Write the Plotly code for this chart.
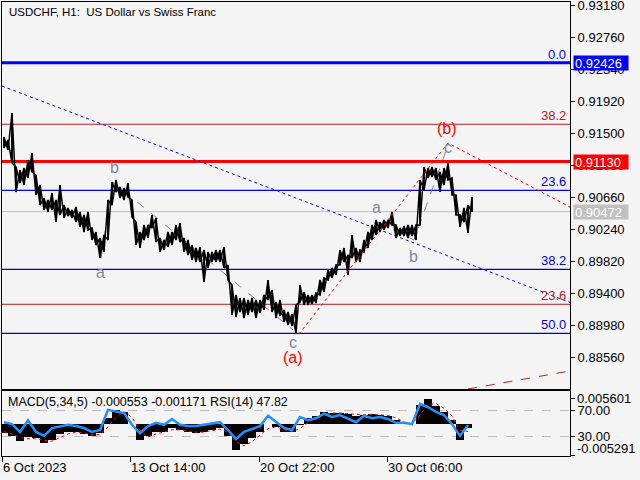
import plotly.graph_objects as go

# ---------------- data ----------------
chart_title = "USDCHF, H1:\u00a0 US Dollar vs Swiss Franc"
indicator_title = "MACD(5,34,5) -0.000553 -0.001171 RSI(14) 47.82"

# hourly bars, sampled every 4 bars starting at bar 2
price_first_bar = 2
price_bar_step = 4
price_high = [
    0.91452, 0.91413, 0.91767, 0.91058, 0.91019, 0.91045, 0.91150, 0.91242, 0.90953, 0.90822,
    0.90651, 0.90625, 0.90717, 0.90625, 0.90822, 0.90559, 0.90520, 0.90494, 0.90533, 0.90468,
    0.90428, 0.90468, 0.90258, 0.90205, 0.90126, 0.90166, 0.90625, 0.90861, 0.90888, 0.90796,
    0.90783, 0.90848, 0.90625, 0.90336, 0.90205, 0.90297, 0.90297, 0.90428, 0.90389, 0.90126,
    0.90100, 0.90205, 0.90205, 0.90297, 0.90323, 0.90126, 0.90100, 0.90034, 0.89995, 0.90008,
    0.89969, 0.89943, 0.89943, 0.89969, 0.89969, 0.90008, 0.89772, 0.89509, 0.89378, 0.89339,
    0.89339, 0.89313, 0.89339, 0.89313, 0.89313, 0.89378, 0.89575, 0.89444, 0.89286, 0.89313,
    0.89181, 0.89155, 0.89129, 0.89247, 0.89509, 0.89418, 0.89378, 0.89378, 0.89404, 0.89575,
    0.89601, 0.89706, 0.89733, 0.89772, 0.89969, 0.89995, 0.89903, 0.90166, 0.89995, 0.89969,
    0.90100, 0.90205, 0.90297, 0.90363, 0.90336, 0.90363, 0.90363, 0.90468, 0.90297, 0.90258,
    0.90284, 0.90297, 0.90297, 0.90297, 0.90888, 0.91058, 0.91045, 0.91058, 0.91045, 0.90993,
    0.91045, 0.91111, 0.90914, 0.90691, 0.90428, 0.90520, 0.90559, 0.90664,
]
price_low = [
    0.91308, 0.91281, 0.91111, 0.90730, 0.90848, 0.90822, 0.90914, 0.90993, 0.90691, 0.90559,
    0.90494, 0.90468, 0.90494, 0.90336, 0.90428, 0.90389, 0.90415, 0.90389, 0.90336, 0.90271,
    0.90205, 0.90231, 0.90100, 0.90034, 0.89864, 0.89943, 0.90100, 0.90559, 0.90730, 0.90651,
    0.90625, 0.90664, 0.90402, 0.90034, 0.89995, 0.90100, 0.90126, 0.90258, 0.90074, 0.89943,
    0.89969, 0.90008, 0.90034, 0.90100, 0.90074, 0.89943, 0.89903, 0.89838, 0.89811, 0.89811,
    0.89549, 0.89733, 0.89811, 0.89811, 0.89811, 0.89733, 0.89575, 0.89116, 0.89089, 0.89155,
    0.89076, 0.89116, 0.89155, 0.89076, 0.89142, 0.89181, 0.89313, 0.89155, 0.89076, 0.89103,
    0.89024, 0.88984, 0.88971, 0.88879, 0.89286, 0.89247, 0.89247, 0.89260, 0.89273, 0.89378,
    0.89418, 0.89575, 0.89601, 0.89641, 0.89772, 0.89811, 0.89641, 0.89864, 0.89811, 0.89811,
    0.89943, 0.89995, 0.90100, 0.90166, 0.90205, 0.90231, 0.90258, 0.90297, 0.90126, 0.90153,
    0.90153, 0.90126, 0.90153, 0.90100, 0.90297, 0.90756, 0.90914, 0.90927, 0.90888, 0.90730,
    0.90822, 0.90888, 0.90691, 0.90428, 0.90271, 0.90336, 0.90192, 0.90468,
]

# indicator window, sampled every 8 bars starting at bar 2
ind_first_bar = 2
ind_bar_step = 8
macd_main = [
    -0.00144, -0.00194, -0.00278, -0.00211, -0.00228, -0.00312, -0.00261, -0.00161, -0.00127, -0.00127,
    -0.00161, -0.00194, -0.00144, 0.00107, 0.00241, 0.00208, 0.00010, -0.00261, -0.00194, -0.00127,
    -0.00127, -0.00060, -0.00094, -0.00127, -0.00144, -0.00127, -0.00094, -0.00060, -0.00194, -0.00429,
    -0.00328, -0.00228, -0.00127, 0.00000, -0.00044, -0.00127, -0.00127, -0.00010, 0.00107, 0.00141,
    0.00208, 0.00191, 0.00191, 0.00174, 0.00141, 0.00158, 0.00174, 0.00158, 0.00141, 0.00074,
    0.00000, 0.00000, 0.00325, 0.00426, 0.00308, 0.00208, 0.00074, -0.00261, -0.00055,
]
macd_signal = [
    -0.0012, -0.0016, -0.0022, -0.0024, -0.0023, -0.0027, -0.0028, -0.0022, -0.0016, -0.0013,
    -0.0014, -0.0017, -0.0017, -0.0004, 0.0012, 0.0021, 0.0012, -0.0010, -0.0021, -0.0016,
    -0.0013, -0.0009, -0.0009, -0.0011, -0.0013, -0.0013, -0.0011, -0.0008, -0.0013, -0.0029,
    -0.0036, -0.0029, -0.0018, -0.0007, -0.0004, -0.0009, -0.0012, -0.0007, 0.0003, 0.0011,
    0.0017, 0.0019, 0.0019, 0.0018, 0.0016, 0.0016, 0.0017, 0.0016, 0.0015, 0.0011,
    0.0004, 0.0001, 0.0016, 0.0033, 0.0035, 0.0027, 0.0014, -0.0010, -0.00117,
]
rsi_values = [
    52, 49, 37, 55, 37, 31, 43, 46, 48, 46,
    43, 37, 40, 71, 69, 66, 48, 35, 46, 51,
    48, 57, 48, 46, 46, 48, 51, 52, 40, 26,
    37, 42, 46, 62, 52, 43, 40, 60, 55, 58,
    65, 60, 63, 57, 52, 62, 58, 60, 57, 51,
    51, 49, 80, 75, 68, 63, 49, 31, 47.82,
]

# axes
time_tick_bars = [0, 128, 257, 385]
time_tick_labels = ["6 Oct 2023", "13 Oct 14:00", "20 Oct 22:00", "30 Oct 06:00"]
price_ticks = [0.93180, 0.92760, 0.92340, 0.91920, 0.91500, 0.91080,
               0.90660, 0.90240, 0.89820, 0.89400, 0.88980, 0.88560]
price_range = [0.88144, 0.93224]
bar_range = [0, 568]
macd_range = [-0.005291, 0.005601]
rsi_levels = [70, 30]

# horizontal levels: (price, label, colour, width)
fib_levels = [
    (0.92426, "0.0", "#0000FF", 3),
    (0.91619, "38.2", "#B22222", 1),
    (0.90752, "23.6", "#0000DD", 1.2),
    (0.89715, "38.2", "#0000DD", 1.2),
    (0.89256, "23.6", "#B22222", 1),
    (0.88875, "50.0", "#0000DD", 1.2),
]
resistance_level = 0.91130
current_price = 0.90472

# drawn objects (bar, price)
trend_blue_bars = [0, 568]
trend_blue_prices = [0.92121, 0.89281]
wave_red_bars = [297, 446, 568]
wave_red_prices = [0.88866, 0.91373, 0.90533]
channel_brown_bars = [466, 568]
channel_brown_prices = [0.88144, 0.88381]
sub_left_bars = [99, 111, 291]
sub_left_prices = [0.89864, 0.90861, 0.88919]
sub_right_bars = [375, 412, 445]
sub_right_prices = [0.90336, 0.90100, 0.91308]

wave_labels = [
    ("b", 112, 0.91058, "#7D8A96"),
    ("a", 98, 0.89667, "#7D8A96"),
    ("c", 291, 0.88748, "#7D8A96"),
    ("(a)", 291, 0.88564, "#FF0000"),
    ("a", 374, 0.90533, "#7D8A96"),
    ("b", 411, 0.89877, "#7D8A96"),
    ("c", 446, 0.91308, "#7D8A96"),
    ("(b)", 445, 0.91570, "#FF0000"),
]

# ---------------- figure ----------------
FONT = "Liberation Sans"
BG = "#F4F4F4"
W, H = 640, 480
ML, MR, MT, MB = 2, 70, 2, 24
plot_h = H - MT - MB
main_bottom_px, ind_top_px = 389, 391
main_dom = [(H - MB - main_bottom_px) / plot_h, 1]
ind_dom = [0, (H - MB - ind_top_px) / plot_h]

price_bars = [price_first_bar + i * price_bar_step for i in range(len(price_high))]
ind_bars = [ind_first_bar + i * ind_bar_step for i in range(len(macd_main))]

# each sampled bar drawn as a vertical high-low stroke; two stroke paths cross-join the bars
down_x, down_y, up_x, up_y = [], [], [], []
for b, hi, lo in zip(price_bars, price_high, price_low):
    down_x += [b, b]
    down_y += [hi, lo]
    up_x += [b, b]
    up_y += [lo, hi]

fig = go.Figure()

# reference drawings
fig.add_trace(go.Scatter(x=trend_blue_bars, y=trend_blue_prices, mode="lines",
                         line=dict(color="#0000FF", width=1, dash="dot"), xaxis="x2", yaxis="y"))
fig.add_trace(go.Scatter(x=channel_brown_bars, y=channel_brown_prices, mode="lines",
                         line=dict(color="#B22222", width=1, dash="dash"), xaxis="x2", yaxis="y"))
fig.add_trace(go.Scatter(x=sub_left_bars, y=sub_left_prices, mode="lines",
                         line=dict(color="#808080", width=1, dash="dash"), xaxis="x2", yaxis="y"))
fig.add_trace(go.Scatter(x=sub_right_bars, y=sub_right_prices, mode="lines",
                         line=dict(color="#808080", width=1, dash="dash"), xaxis="x2", yaxis="y"))

# price bars
fig.add_trace(go.Scatter(x=down_x, y=down_y, mode="lines",
                         line=dict(color="black", width=1.5), xaxis="x2", yaxis="y"))
fig.add_trace(go.Scatter(x=up_x, y=up_y, mode="lines",
                         line=dict(color="black", width=1.5), xaxis="x2", yaxis="y"))

fig.add_trace(go.Scatter(x=wave_red_bars, y=wave_red_prices, mode="lines",
                         line=dict(color="#FF0000", width=1, dash="dot"), xaxis="x2", yaxis="y"))

# indicator window
fig.add_trace(go.Bar(x=ind_bars, y=macd_main, width=ind_bar_step, marker_color="black",
                     marker_line_width=0, xaxis="x", yaxis="y2"))
fig.add_trace(go.Scatter(x=ind_bars, y=macd_signal, mode="lines",
                         line=dict(color="#FF0000", width=1, dash="dot"), xaxis="x", yaxis="y2"))
fig.add_trace(go.Scatter(x=ind_bars, y=rsi_values, mode="lines",
                         line=dict(color="#1E90FF", width=2.5), xaxis="x", yaxis="y3"))

shapes = []
for price, _, colour, width in fib_levels:
    shapes.append(dict(type="line", xref="x2 domain", x0=0, x1=1, yref="y", y0=price, y1=price,
                       line=dict(color=colour, width=width), layer="below"))
shapes.append(dict(type="line", xref="x2 domain", x0=0, x1=1, yref="y",
                   y0=resistance_level, y1=resistance_level,
                   line=dict(color="#FF0000", width=3), layer="below"))
shapes.append(dict(type="line", xref="x2 domain", x0=0, x1=1, yref="y",
                   y0=current_price, y1=current_price,
                   line=dict(color="#C0C0C0", width=1), layer="below"))

annotations = []
annotations.append(dict(text=chart_title, xref="paper", yref="paper", x=5 / 568,
                        y=(H - MB - 12) / plot_h, xanchor="left", yanchor="middle",
                        showarrow=False, font=dict(family=FONT, size=11.5, color="black")))
annotations.append(dict(text=indicator_title, xref="paper", yref="paper", x=4 / 568,
                        y=(H - MB - 402) / plot_h, xanchor="left", yanchor="middle",
                        showarrow=False, font=dict(family=FONT, size=12.5, color="black")))
for price, label, colour, _ in fib_levels:
    annotations.append(dict(text=label, xref="paper", x=566 / 568, xanchor="right",
                            yref="y", y=price, yanchor="bottom", yshift=-1, showarrow=False,
                            font=dict(family=FONT, size=13, color=colour)))
for txt, bar, price, colour in wave_labels:
    annotations.append(dict(text=txt, xref="x2", yref="y", x=bar, y=price, showarrow=False,
                            xanchor="center", yanchor="middle",
                            font=dict(family=FONT, size=16, color=colour)))
for price, colour in [(fib_levels[0][0], "#0000FF"), (resistance_level, "#FF0000"),
                      (current_price, "#C0C0C0")]:
    annotations.append(dict(text=f"{price:.5f}", xref="paper", x=1 + 3 / 568, xanchor="left",
                            yref="y", y=price, yanchor="middle", showarrow=False,
                            bgcolor=colour, borderpad=1, width=52, height=12, align="left",
                            font=dict(family=FONT, size=13, color="white")))
for val, ypx in [(macd_range[1], 398), (macd_range[0], 448)]:
    annotations.append(dict(text=f"{val:.6f}", xref="paper", x=1 + 5 / 568, xanchor="left",
                            yref="paper", y=(H - MB - ypx) / plot_h, yanchor="middle",
                            showarrow=False, font=dict(family=FONT, size=13, color="black")))
for bar, lab in zip(time_tick_bars, time_tick_labels):
    annotations.append(dict(text=lab, xref="x", x=bar, xanchor="left", xshift=-1,
                            yref="paper", y=(H - MB - 467) / plot_h, yanchor="middle",
                            showarrow=False, font=dict(family=FONT, size=13, color="black")))

axis_common = dict(showgrid=False, zeroline=False, showline=True, linecolor="black",
                   linewidth=1, mirror=True)
fig.update_layout(
    width=W, height=H, margin=dict(l=ML, r=MR, t=MT, b=MB, autoexpand=False),
    paper_bgcolor=BG, plot_bgcolor=BG, showlegend=False,
    font=dict(family=FONT, size=13, color="black"),
    xaxis=dict(domain=[0, 1], anchor="y2", range=bar_range, tickvals=time_tick_bars,
               ticktext=[""] * len(time_tick_bars), ticks="outside", ticklen=5,
               tickcolor="black", **axis_common),
    xaxis2=dict(domain=[0, 1], anchor="y", matches="x", range=bar_range,
                showticklabels=False, ticks="", **axis_common),
    yaxis=dict(domain=main_dom, anchor="x2", side="right", range=price_range,
               tickvals=price_ticks, ticktext=[f"{p:.5f}" for p in price_ticks],
               ticks="outside", ticklen=4, tickcolor="black", ticklabeloverflow="allow",
               tickfont=dict(family=FONT, size=13, color="black"), **axis_common),
    yaxis2=dict(domain=ind_dom, anchor="x", side="right", range=macd_range,
                tickvals=[0.00442, -0.00513], ticktext=["", ""], ticks="outside", ticklen=4,
                tickcolor="black", **axis_common),
    yaxis3=dict(overlaying="y2", anchor="x", side="right", range=[0, 100],
                tickvals=rsi_levels, ticktext=[f"{v:.2f}" for v in rsi_levels],
                ticks="outside", ticklen=4, tickcolor="black", showline=False,
                showgrid=True, gridcolor="#BDBDBD", griddash="dash", gridwidth=1,
                zeroline=False, ticklabeloverflow="allow",
                tickfont=dict(family=FONT, size=13, color="black")),
    shapes=shapes, annotations=annotations, bargap=0,
)

fig.write_html("out.html", config={"displayModeBar": False, "staticPlot": True},
               post_script="document.body.style.margin='0';document.body.style.padding='0';")
